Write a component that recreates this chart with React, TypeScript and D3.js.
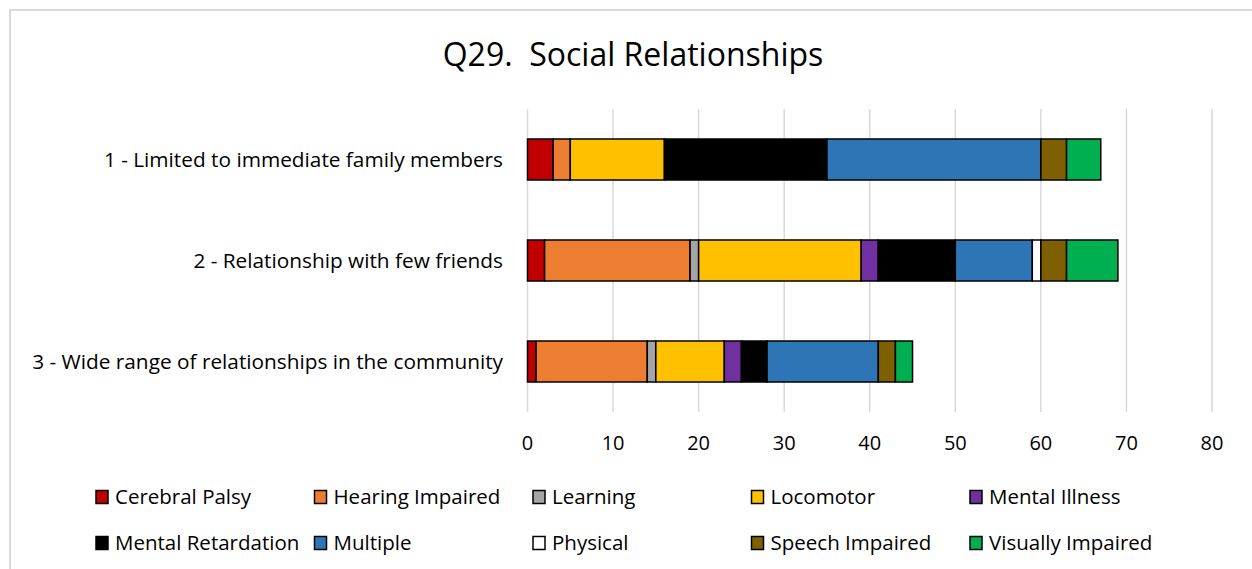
import React from "react";
import * as d3 from "d3";

const categories = [
  "1 - Limited to immediate family members",
  "2 - Relationship with few friends",
  "3 - Wide range of relationships in the community",
];
const seriesNames = [
  "Cerebral Palsy",
  "Hearing Impaired",
  "Learning",
  "Locomotor",
  "Mental Illness",
  "Mental Retardation",
  "Multiple",
  "Physical",
  "Speech Impaired",
  "Visually Impaired",
];
const seriesColors = [
  "#C00000",
  "#ED7D31",
  "#A5A5A5",
  "#FFC000",
  "#7030A0",
  "#000000",
  "#2E75B6",
  "#FFFFFF",
  "#7F6000",
  "#00B050",
];
const cerebralPalsy = [3, 2, 1];
const hearingImpaired = [2, 17, 13];
const learning = [0, 1, 1];
const locomotor = [11, 19, 8];
const mentalIllness = [0, 2, 2];
const mentalRetardation = [19, 9, 3];
const multiple = [25, 9, 13];
const physical = [0, 1, 0];
const speechImpaired = [3, 3, 2];
const visuallyImpaired = [4, 6, 2];
const tickValues = [0, 10, 20, 30, 40, 50, 60, 70, 80];

const seriesValues = [
  cerebralPalsy,
  hearingImpaired,
  learning,
  locomotor,
  mentalIllness,
  mentalRetardation,
  multiple,
  physical,
  speechImpaired,
  visuallyImpaired,
];

const FONT = "'Open Sans', 'Noto Sans', sans-serif";

export default function App() {
  const W = 1252;
  const H = 569;
  const x = d3.scaleLinear().domain([0, 80]).range([527.5, 1212]);
  const y = d3
    .scaleBand<string>()
    .domain(categories)
    .range([109, 412])
    .paddingInner(0.594)
    .paddingOuter(0.297);

  const table = categories.map((c, i) => {
    const row: Record<string, number | string> = { cat: c };
    seriesNames.forEach((s, j) => (row[s] = seriesValues[j][i]));
    return row;
  });
  const stacked = d3.stack<any>().keys(seriesNames)(table);

  return (
    <svg
      width={W}
      height={H}
      style={{ position: "absolute", left: 0, top: 0, background: "#fff" }}
      fontFamily={FONT}
    >
      <rect x={10} y={10} width={W + 10} height={H + 10} fill="#fff" stroke="#d9d9d9" strokeWidth={2} />
      <text
        x={633}
        y={66}
        textAnchor="middle"
        fontSize={32}
        fill="#000"
        style={{ whiteSpace: "pre" }}
      >
        {"Q29.  Social Relationships"}
      </text>
      {tickValues.map((t) => (
        <g key={t}>
          <line x1={x(t)} x2={x(t)} y1={109} y2={412} stroke="#d9d9d9" strokeWidth={1.5} />
          <text x={x(t)} y={450} textAnchor="middle" fontSize={20} fill="#000">
            {t}
          </text>
        </g>
      ))}
      {categories.map((c) => (
        <text
          key={c}
          x={503}
          y={(y(c) as number) + y.bandwidth() / 2 + 7}
          textAnchor="end"
          fontSize={20.8}
          fill="#000"
        >
          {c}
        </text>
      ))}
      {stacked.map((layer, j) => (
        <g key={seriesNames[j]}>
          {layer.map((d, i) =>
            d[1] - d[0] > 0 ? (
              <rect
                key={i}
                x={x(d[0])}
                y={y(categories[i]) as number}
                width={x(d[1]) - x(d[0])}
                height={y.bandwidth()}
                fill={seriesColors[j]}
                stroke="#000"
                strokeWidth={1.5}
              />
            ) : null
          )}
        </g>
      ))}
      {seriesNames.map((s, j) => {
        const col = j % 5;
        const row = Math.floor(j / 5);
        const lx = 96 + col * 218.5;
        const ly = 497 + row * 46;
        return (
          <g key={s}>
            <rect x={lx} y={ly - 6.5} width={12} height={13} fill={seriesColors[j]} stroke="#000" strokeWidth={1.5} />
            <text x={lx + 19} y={ly + 7} fontSize={20.5} fill="#000">
              {s}
            </text>
          </g>
        );
      })}
    </svg>
  );
}
